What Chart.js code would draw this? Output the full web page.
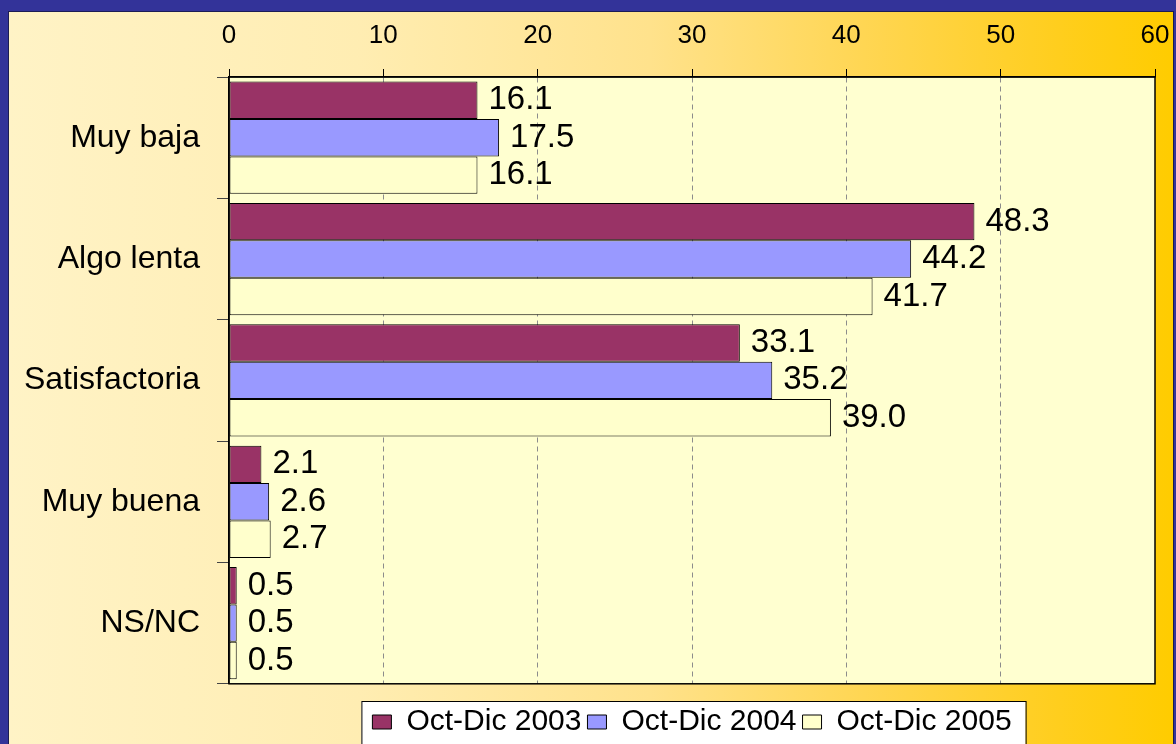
<!DOCTYPE html>
<html>
<head>
<meta charset="utf-8">
<title>Velocidad de atención</title>
<script src="https://cdn.jsdelivr.net/npm/chart.js@4.4.1/dist/chart.umd.min.js"></script>
<style>
  html, body { margin: 0; padding: 0; }
  body {
    width: 1176px;
    height: 744px;
    overflow: hidden;
    position: relative;
    background: #333399;
  }
  #frame {
    position: absolute;
    left: 8px;
    top: 11px;
    width: 1164px;
    height: 736px;
    border-left: 1px solid #1c1c55;
    border-top: 1px solid #1c1c55;
    border-right: 1px solid #1c1c55;
    background: linear-gradient(to right, #fff3c6 0%, #ffedb2 30%, #ffe28c 55%, #ffd54e 75%, #ffce1e 90%, #ffcc00 100%);
  }
  #wrap { position: relative; width: 1164px; height: 736px; }
</style>
</head>
<body>
<div id="frame">
  <div id="wrap"><canvas id="chart"></canvas></div>
</div>
<script>
// Data
const categories = ["Muy baja", "Algo lenta", "Satisfactoria", "Muy buena", "NS/NC"];
const seriesNames = ["Oct-Dic 2003", "Oct-Dic 2004", "Oct-Dic 2005"];
const values2003 = [16.1, 48.3, 33.1, 2.1, 0.5];
const values2004 = [17.5, 44.2, 35.2, 2.6, 0.5];
const values2005 = [16.1, 41.7, 39.0, 2.7, 0.5];
const axisMin = 0;
const axisMax = 60;
const axisStep = 10;

const FONT = "'Liberation Sans', Arial, sans-serif";

// plot area fill, white legend box
const backdrop = {
  id: "backdrop",
  beforeDraw(chart) {
    const { ctx, chartArea: a } = chart;
    ctx.save();
    ctx.fillStyle = "#ffffd0";
    ctx.fillRect(a.left, a.top, a.right - a.left, a.bottom - a.top);

    const boxes = chart.legend.legendHitBoxes;
    if (boxes && boxes.length) {
      const first = boxes[0];
      const last = boxes[boxes.length - 1];
      const x0 = first.left - 11;
      const x1 = last.left + last.width + 14;
      const y0 = first.top - 6;
      ctx.fillStyle = "#ffffff";
      ctx.fillRect(x0, y0, x1 - x0, chart.height - y0 + 10);
      ctx.strokeStyle = "#000";
      ctx.lineWidth = 1;
      ctx.strokeRect(x0 + 0.5, y0 + 0.5, x1 - x0, chart.height - y0 + 10);
    }
    ctx.restore();
  },
  afterDraw(chart) {
    const { ctx, chartArea: a } = chart;
    ctx.save();
    ctx.strokeStyle = "#000";
    ctx.lineWidth = 1.5;
    ctx.strokeRect(a.left, a.top, a.right - a.left, a.bottom - a.top);
    ctx.restore();
  }
};

// value labels at the end of each bar
const barValues = {
  id: "barValues",
  afterDatasetsDraw(chart) {
    const { ctx } = chart;
    ctx.save();
    ctx.font = "33px " + FONT;
    ctx.fillStyle = "#000";
    ctx.textAlign = "left";
    ctx.textBaseline = "middle";
    chart.data.datasets.forEach((ds, i) => {
      chart.getDatasetMeta(i).data.forEach((bar, j) => {
        ctx.fillText(ds.data[j].toFixed(1), bar.x + 11, bar.y);
      });
    });
    ctx.restore();
  }
};

const ctx = document.getElementById("chart").getContext("2d");
new Chart(ctx, {
  type: "bar",
  data: {
    labels: categories,
    datasets: [
      { label: seriesNames[0], data: values2003, backgroundColor: "#993366" },
      { label: seriesNames[1], data: values2004, backgroundColor: "#9999ff" },
      { label: seriesNames[2], data: values2005, backgroundColor: "#ffffcc" }
    ]
  },
  options: {
    indexAxis: "y",
    responsive: true,
    maintainAspectRatio: false,
    animation: false,
    layout: {
      padding: { left: 0, top: 0, right: 18, bottom: 1 }
    },
    datasets: {
      bar: {
        borderColor: "#000",
        borderWidth: 1,
        borderSkipped: false,
        barPercentage: 1,
        categoryPercentage: 0.925
      }
    },
    plugins: {
      tooltip: { enabled: false },
      legend: {
        position: "bottom",
        fullSize: false,
        title: {
          display: true,
          text: "",
          font: { size: 1 },
          padding: { top: 0, bottom: 16 }
        },
        labels: {
          boxWidth: 19,
          boxHeight: 14,
          padding: 6,
          color: "#000",
          font: { family: FONT, size: 30 }
        }
      }
    },
    scales: {
      x: {
        position: "top",
        min: axisMin,
        max: axisMax,
        afterFit: (scale) => {
          scale.height = 65;
          scale.paddingLeft = 0;
          scale.paddingRight = 0;
        },
        ticks: {
          stepSize: axisStep,
          padding: 18,
          color: "#000",
          font: { family: FONT, size: 26 }
        },
        grid: {
          color: (c) => (c.tick && (c.tick.value === axisMin || c.tick.value === axisMax)) ? "rgba(0,0,0,0)" : "#8c8c8c",
          tickColor: "#000",
          tickLength: 8,
          tickBorderDash: []
        },
        border: { display: true, color: "#000", width: 1.5, dash: [5, 4] }
      },
      y: {
        afterFit: (scale) => { scale.width = 220; },
        ticks: {
          padding: 17,
          color: "#000",
          font: { family: FONT, size: 32 }
        },
        grid: {
          drawOnChartArea: false,
          tickColor: "#444",
          tickLength: 12
        },
        border: { display: true, color: "#000", width: 1.5 }
      }
    }
  },
  plugins: [backdrop, barValues]
});
</script>
</body>
</html>
